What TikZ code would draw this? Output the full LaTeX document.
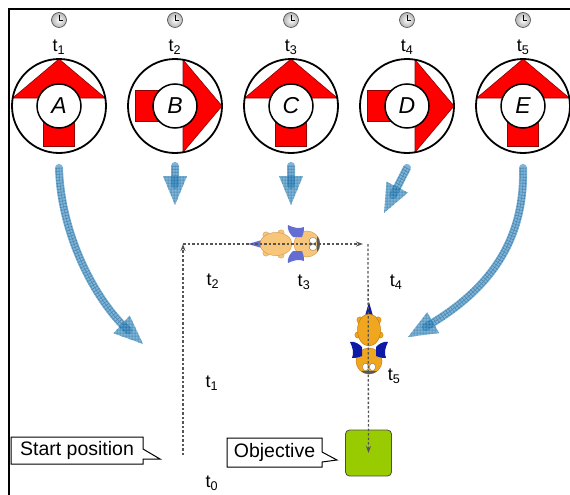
\documentclass[tikz,border=0pt]{standalone}
\usepackage{fontspec}
\setmainfont{Liberation Sans}
\usetikzlibrary{arrows.meta, shapes.callouts, patterns.meta, decorations.markings}

\definecolor{flowfill}{RGB}{70,150,200}
\definecolor{flowline}{RGB}{0,80,140}
\definecolor{goalgreen}{RGB}{153,204,0}
\definecolor{pathgray}{RGB}{85,85,85}
\definecolor{botpale}{RGB}{247,198,122}
\definecolor{botpaleline}{RGB}{214,160,82}
\definecolor{wingpale}{RGB}{100,110,210}
\definecolor{botdeep}{RGB}{241,166,32}
\definecolor{botdeepline}{RGB}{196,124,10}
\definecolor{wingdeep}{RGB}{12,26,165}

\tikzset{
	pics/robot/.style n args={3}{code={
		% tail spike
		\fill[#3] (-45,0) -- (-31,-4) -- (-31,4) -- cycle;
		% bumps on the shell
		\foreach \u/\v in {-12/-11, -27/-9, -12/11, -27/9}
			\filldraw[fill=#1, draw=#2, line width=.4pt] (\u,\v) circle (3.2);
		\filldraw[fill=#1, draw=#2, line width=.5pt] (-17,0) ellipse (16 and 11.5);
		% head
		\filldraw[fill=#1, draw=#2, line width=.5pt] (14,0) circle (13);
		\begin{scope}
			\clip (14,0) circle (13);
			\fill[black!65] (23.5,-10) rectangle (28,10);
		\end{scope}
		\filldraw[fill=white, draw=black!60, line width=.3pt] (20,-3.5) ellipse (3.8 and 3);
		\filldraw[fill=white, draw=black!60, line width=.3pt] (20,3.5) ellipse (3.8 and 3);
		% pincers
		\foreach \s in {1,-1}
		{
			\begin{scope}[yscale=\s]
				\fill[#3] (0,-7) .. controls (-3,-10) and (-6,-14) .. (-5,-19)
					.. controls (1,-16) and (6,-15) .. (11,-17)
					.. controls (11,-12) and (10,-9) .. (9,-7) -- cycle;
			\end{scope}
		}
	}}
}

% thick hatched arrow, shaft and head
\newcommand{\flowarrow}[1]{%
	\begin{scope}[transparency group, opacity=.7]
		\draw[flowshaft] #1;
		\draw[flowshaft, draw=flowline, line width=6pt, line cap=butt] #1;
		\draw[flowshaft, line width=5pt, line cap=butt] #1;
		\draw[flowshaft, draw=flowline, line width=.5pt, line cap=butt] #1;
		\draw[flowshaft, draw=flowline, line width=7.4pt, line cap=butt, dash pattern=on .6pt off 2.4pt] #1;
	\end{scope}
	\path[flowtip] #1;%
}

\begin{document}
\begin{tikzpicture}[x=1pt, y=-1pt,
	dial/.style={circle, draw=black, line width=1.8pt, minimum size=94pt, inner sep=0pt},
	hub/.style={circle, draw=black, fill=white, line width=1.5pt, minimum size=44pt, inner sep=0pt, font=\fontsize{23}{23}\selectfont\itshape},
	pointer/.style={fill=red, draw=red!55!black, line width=.6pt},
	stamp/.style={font=\fontsize{18}{18}\selectfont, inner sep=0pt},
	flowshaft/.style={draw=flowfill, line width=8pt, line cap=round, shorten >=20pt},
	flowtip/.style={decorate, decoration={markings, mark=at position 1 with {
		\begin{scope}[transparency group, opacity=.7]
			\fill[flowfill] (0pt,0pt) -- (-29pt,12pt) -- (-29pt,-12pt) -- cycle;
			\fill[pattern={Hatch[distance=3pt, angle=0, line width=.5pt]}, pattern color=flowline]
				(0pt,0pt) -- (-29pt,12pt) -- (-29pt,-12pt) -- cycle;
		\end{scope}}}},
	traj/.style={draw=pathgray, line width=1.3pt, dash pattern=on 2.5pt off 2pt, -{Stealth[length=7pt, width=5pt]}},
	note/.style={rectangle callout, draw=black, line width=1pt, fill=white, inner sep=0pt,
		callout pointer width=10pt, font=\fontsize{19.5}{20}\selectfont},
	goal/.style={rectangle, rounded corners=4pt, draw=black!70, fill=goalgreen, line width=.8pt, minimum size=46pt},
]
	\useasboundingbox (0,0) rectangle (570,495);

	\draw[line width=1.2pt] (9,495) -- (9,9) -- (570,9);

	% the five dials with their clocks
	\foreach \name/\x/\r/\i in {A/59/0/1, B/175/-90/2, C/291/0/3, D/407/-90/4, E/523/0/5}
	{
		\begin{scope}[shift={(\x,106)}, rotate=\r]
			\filldraw[pointer] (0,-47) -- (-46.3,-8) -- (46.3,-8) -- cycle;
			\filldraw[pointer] (-15.5,-8) rectangle (15.5,40);
		\end{scope}
		\node[dial] (\name) at (\x,106) {};
		\node[hub] (\name hub) at (\x,106) {\name};
		\node[stamp] (tick\i) at (\x,47) {t\textsubscript{\i}};

		\shade[inner color=white, outer color=black!30] (\x,20) circle (7.5);
		\draw[black!70, line width=.6pt] (\x,20) circle (7.5);
		\draw[line width=.6pt] (\x,15) -- (\x,20) -- (\x+4,20);
	}

	% commands sent to the robot
	\flowarrow{([yshift=-14pt]A.south) .. controls (61,235) and (95,300) .. (143,344)}
	\flowarrow{([yshift=-12pt]B.south) -- (175,205)}
	\flowarrow{([yshift=-12pt]C.south) -- (291,205)}
	\flowarrow{([yshift=-14pt]D.south) -- (384,213)}
	\flowarrow{([yshift=-14pt]E.south) .. controls (525,240) and (490,290) .. (408,337)}

	% field
	\node[goal] (goal) at (368.5,453) {};
	\pic at (293,244) {robot={botpale}{botpaleline}{wingpale}};
	\pic[rotate=-90] at (369,347) {robot={botdeep}{botdeepline}{wingdeep}};

	\coordinate (start) at (183,455);
	\coordinate (turn1) at (183,244);
	\coordinate (turn2) at (368,244);
	\draw[traj] (start) -- (turn1);
	\draw[traj, shorten >=5pt] (turn1) -- (turn2);
	\draw[traj] (turn2) -- (goal.center);

	\node[stamp] (t0) at (212,483) {t\textsubscript{0}};
	\node[stamp] (t1) at (212,383) {t\textsubscript{1}};
	\node[stamp] (t2) at (213,281) {t\textsubscript{2}};
	\node[stamp] (t3) at (304,282) {t\textsubscript{3}};
	\node[stamp] (t4) at (396,282) {t\textsubscript{4}};
	\node[stamp] (t5) at (394,376) {t\textsubscript{5}};

	\node[note, minimum width=132pt, minimum height=27pt, callout absolute pointer={(160,459)}] (startnote) at (77,450.5) {Start position};
	\node[note, minimum width=95pt, minimum height=29pt, callout absolute pointer={(337,460)}] (goalnote) at (274.5,452.5) {Objective};
\end{tikzpicture}
\end{document}
